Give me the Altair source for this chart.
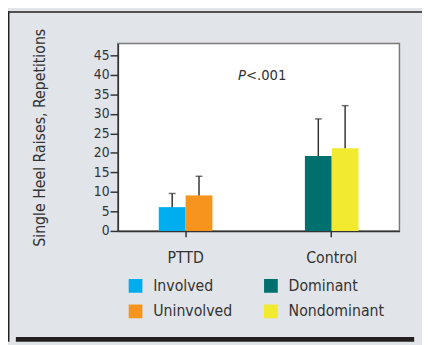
import altair as alt
import pandas as pd

groups = ["PTTD", "PTTD", "Control", "Control"]
series = ["Involved", "Uninvolved", "Dominant", "Nondominant"]
sides = ["a", "b", "a", "b"]
means = [6.1, 9.1, 19.2, 21.2]
upper = [9.6, 14.0, 28.7, 32.1]

legend_order = ["Involved", "Uninvolved", "Dominant", "Nondominant"]
legend_colors = ["#00aeef", "#f7941d", "#00706e", "#f2ea2e"]
y_ticks = [0, 5, 10, 15, 20, 25, 30, 35, 40, 45]
group_order = ["PTTD", "Control"]
p_label_y = 40

df = pd.DataFrame({"group": groups, "series": series, "side": sides,
                   "mean": means, "upper": upper})

FONT = "Liberation Sans Narrow, DejaVu Sans Condensed, sans-serif"
W, H = 287, 191
INK = "#333333"

xenc = alt.X("group:N", sort=group_order,
             scale=alt.Scale(paddingInner=0.633, paddingOuter=0.28),
             axis=alt.Axis(title=None, labelAngle=0, tickSize=6, labelPadding=13,
                           labelFontSize=16, labelColor=INK, tickColor=INK,
                           tickWidth=1.5, domainColor=INK, domainWidth=1.5))
xo = alt.XOffset("side:N", scale=alt.Scale(paddingInner=0, paddingOuter=0))
yscale = alt.Scale(domain=[0, 48], nice=False)
yaxis = alt.Axis(values=y_ticks, grid=False, tickSize=8, labelPadding=1,
                 labelOverlap=False, labelFontSize=14, labelColor=INK,
                 tickColor=INK, tickWidth=1.5, domainColor=INK, domainWidth=1.5,
                 title="Single Heel Raises, Repetitions", titleFontSize=16,
                 titleFontWeight="normal", titleColor=INK, titleX=-80, titleY=H / 2,
                 titleAlign="center", titleBaseline="middle")

base = alt.Chart(df)
bars = base.mark_bar().encode(
    x=xenc, xOffset=xo,
    y=alt.Y("mean:Q", scale=yscale, axis=yaxis),
    color=alt.Color("series:N",
                    scale=alt.Scale(domain=legend_order, range=legend_colors),
                    legend=alt.Legend(orient="none", legendX=10, legendY=239,
                                      columns=2, title=None, symbolType="square",
                                      symbolSize=196, symbolStrokeWidth=0,
                                      symbolOpacity=1, labelFontSize=16,
                                      labelColor=INK, labelOffset=10,
                                      columnPadding=31, rowPadding=10, padding=0)),
)
err = base.mark_rule(color=INK, strokeWidth=1.5).encode(
    x=xenc, xOffset=xo,
    y=alt.Y("mean:Q", scale=yscale, axis=yaxis), y2="upper:Q")
cap = base.mark_tick(color=INK, thickness=1.5, size=7, orient="horizontal").encode(
    x=xenc, xOffset=xo, y=alt.Y("upper:Q", scale=yscale, axis=yaxis))

one = alt.Data(values=[{}])
p_txt = alt.Chart(one).mark_text(text="P", fontStyle="italic", align="right",
                                 baseline="middle", fontSize=15, color=INK).encode(
    x=alt.value(W / 2 - 13), y=alt.YDatum(p_label_y, scale=yscale, axis=yaxis))
p_val = alt.Chart(one).mark_text(text="<.001", align="left",
                                 baseline="middle", fontSize=15, color=INK).encode(
    x=alt.value(W / 2 - 13), y=alt.YDatum(p_label_y, scale=yscale, axis=yaxis))

top_line = alt.Chart(one).mark_rule(color="#222222", strokeWidth=1.5).encode(
    x=alt.value(-112), x2=alt.value(310), y=alt.value(-32.25))
left_line = alt.Chart(one).mark_rule(color="#222222", strokeWidth=1.5).encode(
    x=alt.value(-111.25), y=alt.value(-33), y2=alt.value(304))
bottom_bar = alt.Chart(one).mark_rule(color="#231f20", strokeWidth=5).encode(
    x=alt.value(-104), x2=alt.value(302), y=alt.value(301.5))

chart = alt.layer(bars, err, cap, p_txt, p_val, top_line, left_line, bottom_bar).properties(
    width=W, height=H,
    padding={"left": 112, "top": 33, "right": 23, "bottom": 113},
    autosize=alt.AutoSizeParams(type="none"),
    background="#e1e4e8",
).configure(font=FONT).configure_view(fill="white", stroke="#7a7a7a", strokeWidth=1.5)

chart.save("out.html", embed_options={"renderer": "svg", "actions": False})
